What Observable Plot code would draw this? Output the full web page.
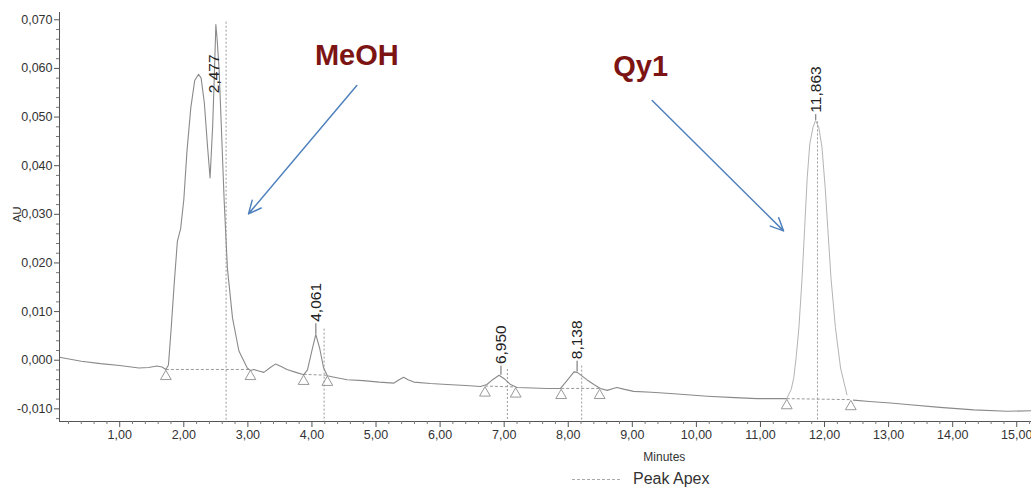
<!DOCTYPE html>
<html>
<head>
<meta charset="utf-8">
<script src="https://cdn.jsdelivr.net/npm/d3@7"></script>
<script src="https://cdn.jsdelivr.net/npm/@observablehq/plot@0.6"></script>
<style>
  html, body { margin: 0; padding: 0; background: #fff; overflow: hidden; }
  #chart { width: 1031px; }
  #legend { position: relative; width: 1031px; height: 27px; font-family: 'Liberation Sans', Arial, sans-serif; }
  #legend .swatch { position: absolute; left: 572px; top: 13px; width: 48px; border-top: 1px dashed #aaa; }
  #legend .lbl { position: absolute; left: 633px; top: 4px; font-size: 16px; color: #333; }
</style>
</head>
<body>
<div id="chart"></div>
<div id="legend"><span class="swatch"></span><span class="lbl">Peak Apex</span></div>
<script>
// ---- Chromatogram trace (minutes, AU) ----
const times = [0.06,0.40,0.70,1.00,1.30,1.45,1.58,1.66,1.72,1.76,1.80,1.85,1.90,1.95,2.00,2.05,2.11,2.17,2.23,2.27,2.32,2.37,2.41,2.45,2.48,2.50,2.52,2.55,2.58,2.63,2.68,2.76,2.86,2.99,3.04,3.09,3.17,3.25,3.35,3.43,3.52,3.61,3.75,3.87,3.93,4.00,4.06,4.12,4.18,4.24,4.35,4.55,4.80,5.05,5.28,5.36,5.43,5.50,5.59,5.85,6.11,6.40,6.63,6.73,6.82,6.92,7.00,7.10,7.20,7.45,7.67,7.88,7.98,8.09,8.14,8.29,8.40,8.50,8.61,8.70,8.76,8.88,9.02,9.30,9.65,10.17,10.60,10.95,11.20,11.41,11.48,11.52,11.56,11.60,11.65,11.69,11.73,11.77,11.82,11.86,11.91,11.96,12.01,12.05,12.10,12.17,12.25,12.35,12.45,12.70,13.03,13.29,13.80,14.33,14.85,15.23];
const absorbance = [0.0006,-0.0002,-0.0007,-0.0011,-0.0016,-0.0015,-0.0012,-0.0014,-0.0019,-0.0010,0.0060,0.0157,0.0245,0.0270,0.0330,0.0431,0.0520,0.0575,0.0588,0.0580,0.0530,0.0440,0.0375,0.0480,0.0600,0.0690,0.0660,0.0600,0.0500,0.0328,0.0190,0.0087,0.0019,-0.0016,-0.0021,-0.0019,-0.0022,-0.0025,-0.0015,-0.0008,-0.0013,-0.0019,-0.0025,-0.0030,-0.0020,0.0020,0.0053,0.0025,-0.0015,-0.0032,-0.0035,-0.0040,-0.0042,-0.0045,-0.0047,-0.0040,-0.0035,-0.0040,-0.0045,-0.0048,-0.0050,-0.0052,-0.0054,-0.0050,-0.0040,-0.0031,-0.0038,-0.0050,-0.0056,-0.0057,-0.0058,-0.0058,-0.0042,-0.0024,-0.0025,-0.0040,-0.0050,-0.0058,-0.0062,-0.0058,-0.0056,-0.0060,-0.0064,-0.0066,-0.0069,-0.0074,-0.0077,-0.0079,-0.0079,-0.0079,-0.0060,-0.0036,0.0010,0.0067,0.0170,0.0273,0.0376,0.0445,0.0479,0.0493,0.0479,0.0438,0.0355,0.0273,0.0170,0.0067,-0.0016,-0.0071,-0.0082,-0.0085,-0.0088,-0.0091,-0.0097,-0.0102,-0.0105,-0.0104];

// ---- Peak labels (retention time), apex value and label base value ----
const peakRT = [2.477, 4.061, 6.950, 8.138, 11.863];
const peakLabels = ["2,477", "4,061", "6,950", "8,138", "11,863"];
const peakApexAU = [0.0545, 0.0053, -0.0031, -0.0024, 0.0493];
const peakLabelAU = [0.0545, 0.0075, -0.0012, -0.0002, 0.0505];

// ---- Peak Apex dashed markers ----
const apexLineRT = [2.66, 4.19, 7.05, 8.21, 11.89];
const apexLineTopAU = [0.0695, 0.0064, -0.0019, -0.0012, 0.0490];

// ---- Integration baselines (start/end of each peak) ----
const baseStartRT = [1.72, 3.87, 6.70, 7.89, 11.41];
const baseStartAU = [-0.0019, -0.0029, -0.0053, -0.0058, -0.0079];
const baseEndRT = [3.04, 4.24, 7.18, 8.49, 12.41];
const baseEndAU = [-0.0019, -0.0031, -0.0055, -0.0058, -0.0081];

// ---- Annotations ----
const annoText = ["MeOH", "Qy1"];
const annoRT = [4.70, 9.13];
const annoAU = [0.0627, 0.0604];
const arrowFromRT = [4.70, 9.31];
const arrowFromAU = [0.0565, 0.0534];
const arrowToRT = [3.01, 11.36];
const arrowToAU = [0.0301, 0.0266];

// ---- Axes ----
const xMajor = d3.range(1, 16);
const xMinor = d3.range(1, 77).map(i => +(i * 0.2).toFixed(1)).filter(v => Math.abs(v - Math.round(v)) > 1e-6 && v <= 15.2);
const yMajor = d3.range(-1, 8).map(i => +(i * 0.01).toFixed(3));
const yMinor = d3.range(-6, 36).map(i => +(i * 0.002).toFixed(3)).filter(v => Math.abs(v * 100 - Math.round(v * 100)) > 1e-6);
const xDomain = [0.06, 15.23];
const yDomain = [-0.0126, 0.0715];

const fmtX = d => d.toFixed(2).replace(".", ",");
const fmtY = d => (d < 0 ? "-" : "") + Math.abs(d).toFixed(3).replace(".", ",");

// the last peak (Qy1) is drawn in a lighter tone, as in the original print
const qyStart = baseStartRT[4], qyEnd = baseEndRT[4];
const trace = times.map((t, i) => ({t, v: absorbance[i]}));
const traceMain = trace.filter(d => d.t <= qyStart || d.t >= qyEnd);
const traceQy = trace.filter(d => d.t >= qyStart && d.t <= qyEnd);
const traceA = traceMain.filter(d => d.t <= qyStart);
const traceB = traceMain.filter(d => d.t >= qyEnd);

const peaks = peakRT.map((t, i) => ({t, label: peakLabels[i], apex: peakApexAU[i], base: peakLabelAU[i]}));
const apexLines = apexLineRT.map((t, i) => ({t, top: apexLineTopAU[i]}));
const baselines = baseStartRT.map((t, i) => ({x1: t, y1: baseStartAU[i], x2: baseEndRT[i], y2: baseEndAU[i]}));
const triangles = baselines.flatMap(b => [{t: b.x1, v: b.y1}, {t: b.x2, v: b.y2}]);
const annos = annoText.map((s, i) => ({s, t: annoRT[i], v: annoAU[i]}));
const arrows = arrowFromRT.map((t, i) => ({x1: t, y1: arrowFromAU[i], x2: arrowToRT[i], y2: arrowToAU[i]}));

const font = "'Liberation Sans', Arial, sans-serif";

const chart = Plot.plot({
  width: 1031,
  height: 466,
  marginLeft: 59,
  marginRight: 0,
  marginTop: 12,
  marginBottom: 45,
  style: {fontFamily: font, background: "white", overflow: "visible"},
  x: {domain: xDomain, axis: null},
  y: {domain: yDomain, axis: null},
  marks: [
    // apex dashed lines
    Plot.ruleX(apexLines, {x: "t", y1: "top", y2: yDomain[0], stroke: "#999", strokeWidth: 1, strokeDasharray: "2,2"}),
    // integration baselines
    Plot.link(baselines, {x1: "x1", y1: "y1", x2: "x2", y2: "y2", stroke: "#999", strokeWidth: 1, strokeDasharray: "3,2"}),
    Plot.dot(triangles, {x: "t", y: "v", symbol: "triangle", r: 4, fill: "none", stroke: "#999", strokeWidth: 1, dy: 7}),
    // trace
    Plot.line(traceA, {x: "t", y: "v", stroke: "#8a8a8a", strokeWidth: 1.1}),
    Plot.line(traceB, {x: "t", y: "v", stroke: "#8a8a8a", strokeWidth: 1.1}),
    Plot.line(traceQy, {x: "t", y: "v", stroke: "#b4b4b4", strokeWidth: 1}),
    // peak tick lines and labels
    Plot.ruleX(peaks, {x: "t", y1: "apex", y2: "base", stroke: "#666", strokeWidth: 1}),
    Plot.text(peaks, {x: "t", y: "base", text: "label", rotate: -90, textAnchor: "start", dy: -2, fontSize: 15.5, fill: "#222"}),
    // axes lines
    Plot.ruleY([yDomain[0]], {stroke: "#555", strokeWidth: 1}),
    Plot.ruleX([xDomain[0]], {stroke: "#555", strokeWidth: 1}),
    Plot.axisX({ticks: xMajor, tickSize: 6, tickFormat: fmtX, fontSize: 12.5, color: "#333", stroke: "#555", label: null}),
    Plot.axisX({ticks: xMinor, tickSize: 3, tickFormat: () => "", stroke: "#777", label: null}),
    Plot.axisY({ticks: yMajor, tickSize: 5, tickPadding: 2, tickFormat: fmtY, fontSize: 12.5, color: "#333", stroke: "#555", label: null}),
    Plot.axisY({ticks: yMinor, tickSize: 3, tickFormat: () => "", stroke: "#777", label: null}),
    // axis titles
    Plot.text(["AU"], {x: xDomain[0], y: 0.030, text: d => d, rotate: -90, dx: -42, fontSize: 11.5, fill: "#333"}),
    Plot.text(["Minutes"], {x: 9.5, y: yDomain[0], text: d => d, dy: 36, fontSize: 12, fill: "#333"}),
    // annotations
    Plot.arrow(arrows, {x1: "x1", y1: "y1", x2: "x2", y2: "y2", stroke: "#4f81bd", strokeWidth: 1.5, headLength: 14, headAngle: 50}),
    Plot.text(annos, {x: "t", y: "v", text: "s", fontSize: 29, fontWeight: "bold", fill: "#7d1414"})
  ]
});
document.getElementById("chart").appendChild(chart);
</script>
</body>
</html>
